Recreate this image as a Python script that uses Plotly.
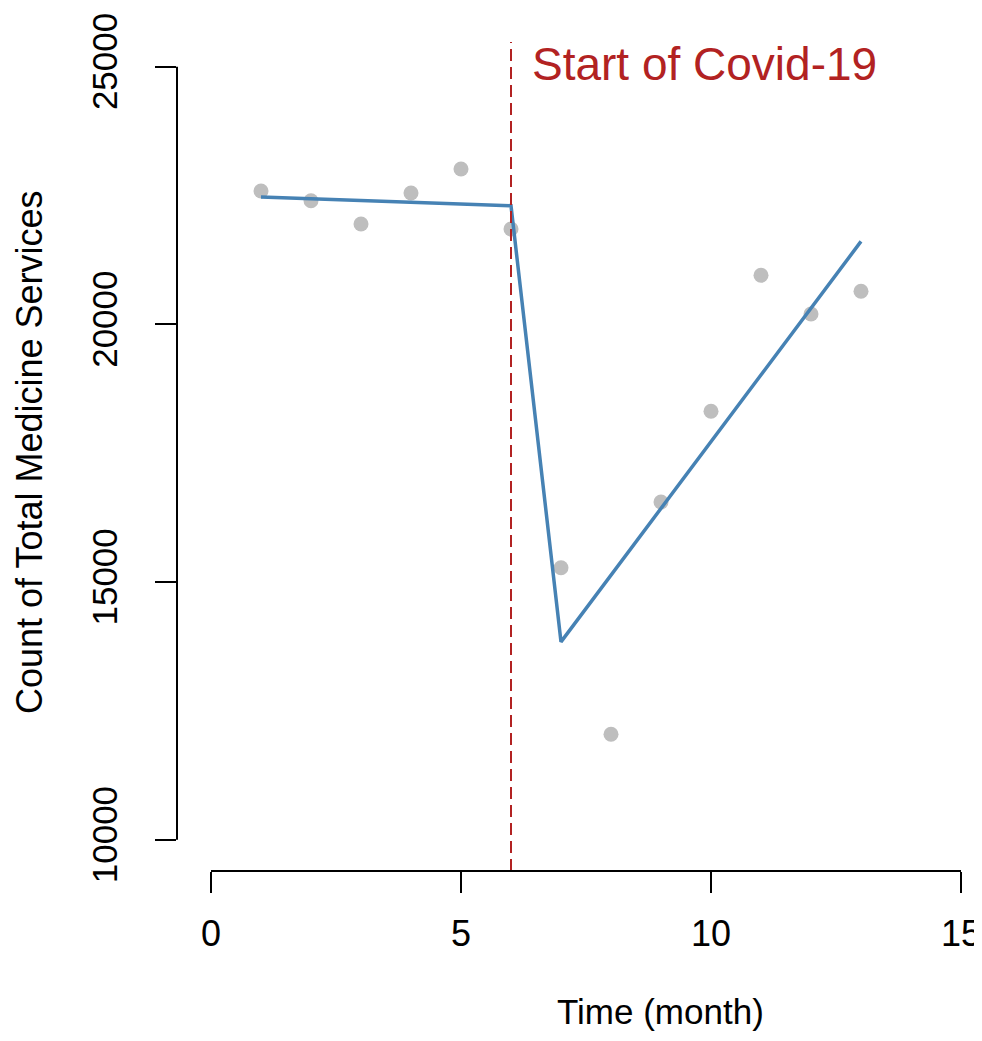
import plotly.graph_objects as go

months = [1, 2, 3, 4, 5, 6, 7, 8, 9, 10, 11, 12, 13]
services = [22588, 22400, 21948, 22549, 23015, 21851, 15279, 12047, 16554, 18314, 20953, 20202, 20642]
fit_months = [1, 6, 7, 13]
fit_values = [22472, 22303, 13840, 21610]
covid_month = 6
x_ticks = [0, 5, 10, 15]
y_ticks = [10000, 15000, 20000, 25000]

FONT = "Liberation Sans, Arial, sans-serif"
RED = "#B22222"

fig = go.Figure()
fig.add_trace(go.Scatter(x=months, y=services, mode="markers",
                         marker=dict(color="#BEBEBE", size=15, line=dict(width=0)),
                         showlegend=False))
fig.add_trace(go.Scatter(x=fit_months, y=fit_values, mode="lines",
                         line=dict(color="#4682B4", width=3.5),
                         showlegend=False))

# vertical dashed line at start of Covid-19
fig.add_shape(type="line", xref="x", yref="paper", x0=covid_month, x1=covid_month, y0=0, y1=1,
              line=dict(color=RED, width=2, dash="12px,6px"))
# R-style axis lines spanning first to last tick
fig.add_shape(type="line", xref="x", yref="paper", x0=x_ticks[0], x1=x_ticks[-1], y0=0, y1=0,
              line=dict(color="black", width=2))
fig.add_shape(type="line", xref="paper", yref="y", x0=0, x1=0, y0=y_ticks[0], y1=y_ticks[-1],
              line=dict(color="black", width=2))

fig.add_annotation(text="Start of Covid-19", xref="x", yref="paper", x=6.38, y=0.973,
                   xanchor="left", yanchor="middle", showarrow=False,
                   font=dict(family=FONT, size=46, color=RED))
fig.add_annotation(text="Time (month)", xref="paper", yref="paper", x=0.6, y=-0.1954,
                   xanchor="center", yanchor="bottom", showarrow=False,
                   font=dict(family=FONT, size=35, color="black"))
fig.add_annotation(text="Count of Total Medicine Services", xref="paper", yref="paper",
                   x=-0.183, y=0.505, textangle=-90,
                   xanchor="center", yanchor="middle", showarrow=False,
                   font=dict(family=FONT, size=36, color="black"))

fig.update_layout(
    width=974, height=1025,
    margin=dict(l=169, r=0, t=34, b=162),
    paper_bgcolor="white", plot_bgcolor="white",
    font=dict(family=FONT, size=36, color="black"),
    xaxis=dict(range=[-0.68, 15.42], tickvals=x_ticks, ticktext=[str(v) for v in x_ticks],
               showgrid=False, zeroline=False, showline=False,
               ticks="outside", ticklen=21, tickwidth=2, tickcolor="black",
               ticklabelstandoff=10,
               tickfont=dict(family=FONT, size=36)),
    yaxis=dict(range=[9395, 25479], tickvals=y_ticks, ticktext=[str(v) for v in y_ticks],
               showgrid=False, zeroline=False, showline=False,
               ticks="outside", ticklen=21, tickwidth=2, tickcolor="black",
               tickangle=-90, ticklabelstandoff=24,
               tickfont=dict(family=FONT, size=35)),
)

fig.write_html("out.html")
